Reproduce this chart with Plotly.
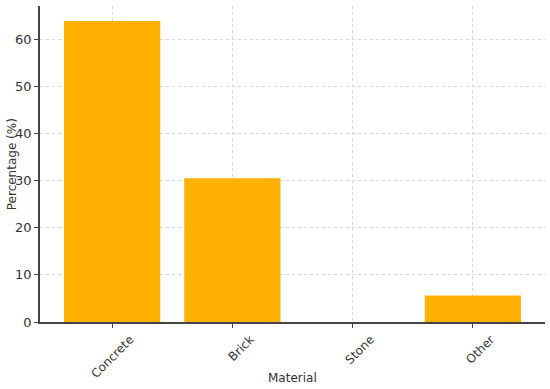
import plotly.graph_objects as go

materials = ["Concrete", "Brick", "Stone", "Other"]
percentages = [63.8, 30.5, 0.0, 5.6]

fig = go.Figure()

fig.add_trace(
    go.Bar(
        x=materials,
        y=percentages,
        width=0.8,
        marker=dict(color="#FFB000", line=dict(width=0)),
    )
)

fig.update_layout(
    width=550,
    height=389,
    plot_bgcolor="white",
    paper_bgcolor="white",
    margin=dict(l=40, r=5, t=6, b=67),
    font=dict(family="DejaVu Sans", size=12, color="#333333"),
    showlegend=False,
)

# axis titles placed by hand so the plot area keeps its margins
fig.add_annotation(
    text="Material", xref="paper", yref="paper",
    x=0.5, y=-0.177, yanchor="middle", showarrow=False,
)
fig.add_annotation(
    text="Percentage (%)", xref="paper", yref="paper",
    x=-0.055, y=0.5, xanchor="center", textangle=-90, showarrow=False,
)

fig.update_xaxes(
    range=[-0.6, 3.6],
    tickangle=-45,
    ticklabelshift=18,
    automargin=False,
    showline=True,
    linecolor="#444444",
    linewidth=1.5,
    ticks="outside",
    ticklen=4,
    tickcolor="#444444",
    showgrid=True,
    gridcolor="#d6d6d6",
    gridwidth=0.8,
    griddash="dot",
)

fig.update_yaxes(
    range=[0, 67],
    tickvals=[0, 10, 20, 30, 40, 50, 60],
    automargin=False,
    showline=True,
    linecolor="#444444",
    linewidth=1.5,
    ticks="outside",
    ticklen=4,
    tickcolor="#444444",
    showgrid=True,
    gridcolor="#d6d6d6",
    gridwidth=0.8,
    griddash="dot",
    zeroline=False,
    tickfont=dict(size=13),
)

fig.write_html(
    "out.html",
    config={"displayModeBar": False},
    post_script="document.body.style.margin='0';",
)
